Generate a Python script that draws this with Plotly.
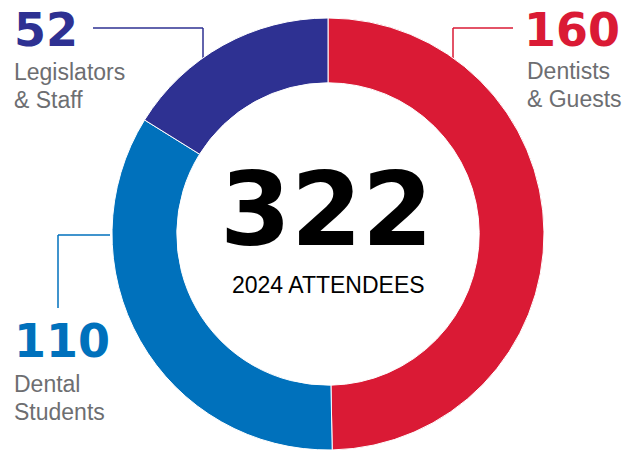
import plotly.graph_objects as go

categories = ["Dentists<br>& Guests", "Dental<br>Students", "Legislators<br>& Staff"]
values = [160, 110, 52]
colors = ["#DA1A35", "#0071BC", "#2E3192"]
center_caption = "2024 ATTENDEES"

W, H = 639, 451
GRAY = "#6D6E71"
NUMFONT = "DejaVu Sans"
TXTFONT = "Liberation Sans, Arial, sans-serif"


def px(x):
    return x / W


def py(y):
    return 1 - y / H


fig = go.Figure(go.Pie(
    labels=categories,
    values=values,
    hole=0.70,
    sort=False,
    direction="clockwise",
    rotation=0,
    marker=dict(colors=colors, line=dict(color="white", width=1)),
    textinfo="none",
    hoverinfo="label+value",
    domain=dict(x=[px(328 - 216), px(328 + 216)], y=[py(234 + 216), py(234 - 216)]),
    showlegend=False,
))

ann = []
# big numbers with labels
num_pos = [(522, 30, "left"), (12, 341, "left"), (12, 30, "left")]
lab_pos = [(525, 71, 99), (12, 384, 412), (12, 72, 100)]
for i, cat in enumerate(categories):
    x, y, xa = num_pos[i]
    ann.append(dict(x=px(x), y=py(y), xref="paper", yref="paper", xanchor=xa, yanchor="middle",
                    text="<b>%d</b>" % values[i], showarrow=False,
                    font=dict(family=NUMFONT, size=46, color=colors[i])))
    lx, ly1, ly2 = lab_pos[i]
    l1, l2 = cat.split("<br>")
    for t, yy in ((l1, ly1), (l2, ly2)):
        ann.append(dict(x=px(lx), y=py(yy), xref="paper", yref="paper", xanchor="left", yanchor="middle",
                        text=t, showarrow=False, font=dict(family=TXTFONT, size=23, color=GRAY)))

ann.append(dict(x=px(326), y=py(210), xref="paper", yref="paper", xanchor="center", yanchor="middle",
                text="<b>%d</b>" % sum(values), showarrow=False,
                font=dict(family=NUMFONT, size=102, color="black")))
ann.append(dict(x=px(328), y=py(285), xref="paper", yref="paper", xanchor="center", yanchor="middle",
                text=center_caption, showarrow=False,
                font=dict(family=TXTFONT, size=23, color="black")))

# leader lines
leaders = [
    [(513, 28), (453, 28), (453, 60)],
    [(110, 235), (58, 235), (58, 308)],
    [(93, 28), (203, 28), (203, 58)],
]
shapes = []
for i, pts in enumerate(leaders):
    for (x0, y0), (x1, y1) in zip(pts[:-1], pts[1:]):
        shapes.append(dict(type="line", xref="paper", yref="paper", x0=px(x0), y0=py(y0), x1=px(x1), y1=py(y1),
                           line=dict(color=colors[i], width=1.5), layer="below"))

fig.update_layout(
    width=W, height=H,
    margin=dict(l=0, r=0, t=0, b=0),
    paper_bgcolor="white", plot_bgcolor="white",
    annotations=ann, shapes=shapes,
)

fig.write_html("out.html", config={"displayModeBar": False},
               post_script="document.body.style.margin='0';document.body.style.padding='0';")
